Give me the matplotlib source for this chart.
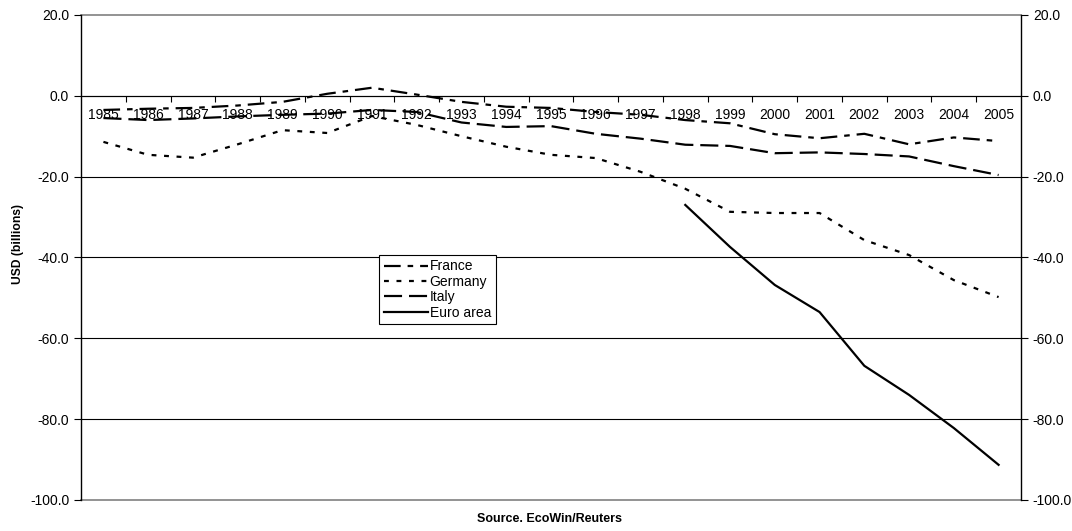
import numpy as np
import matplotlib.pyplot as plt
from matplotlib.ticker import MultipleLocator, FixedLocator

plt.rcParams['font.family'] = ['Liberation Sans', 'DejaVu Sans']
plt.rcParams['lines.scale_dashes'] = False

years = list(range(1985, 2006))
france = [-3.5, -3.2, -3.0, -2.4, -1.5, 0.5, 2.0, 0.3, -1.5, -2.7, -3.0, -4.0,
          -4.7, -6.0, -6.8, -9.5, -10.5, -9.4, -12.0, -10.3, -11.2]
germany = [-11.4, -14.6, -15.3, -12.0, -8.5, -9.2, -5.0, -7.2, -10.0, -12.6, -14.6,
           -15.4, -18.8, -23.0, -28.7, -29.0, -29.0, -35.7, -39.4, -45.6, -49.8]
italy = [-5.5, -6.0, -5.6, -5.1, -4.7, -4.4, -3.5, -4.0, -6.6, -7.7, -7.5, -9.4,
         -10.6, -12.1, -12.4, -14.2, -14.0, -14.4, -15.0, -17.4, -19.6]
euro_years = list(range(1998, 2006))
euro = [-27.0, -37.4, -46.8, -53.5, -66.8, -74.0, -82.2, -91.3]

fig = plt.figure(figsize=(10.72, 5.31), dpi=100)
ax = fig.add_axes([0.0756, 0.0584, 0.8768, 0.9134])

lw = 1.6
ax.plot(years, france, color='black', lw=lw, dashes=(12, 5, 4, 5), label='France')
ax.plot(years, germany, color='black', lw=lw, dashes=(3.5, 5.5), label='Germany')
ax.plot(years, italy, color='black', lw=lw, dashes=(13, 5), label='Italy')
ax.plot(euro_years, euro, color='black', lw=lw, label='Euro area')

ax.set_xlim(1984.5, 2005.5)
ax.set_ylim(-100, 20)
ax.yaxis.set_major_locator(MultipleLocator(20))
ax.yaxis.set_major_formatter(lambda v, p: f'{v:.1f}')
# horizontal gridlines, border ones a bit lighter
for v in range(-80, 20, 20):
    ax.axhline(v, color='black', lw=0.8, zorder=0)
for v in (20, -100):
    ax.axhline(v, color='#808080', lw=1.2, zorder=0, clip_on=False)

# category axis crosses at zero
ax.spines['bottom'].set_position(('data', 0))
ax.spines['bottom'].set_linewidth(0.8)
ax.spines['top'].set_visible(False)
ax.xaxis.set_major_locator(FixedLocator(years))
ax.set_xticklabels([str(y) for y in years], fontsize=10)
ax.xaxis.set_minor_locator(FixedLocator(np.arange(1985.5, 2005, 1)))
ax.tick_params(axis='x', which='major', length=0, pad=9)
ax.tick_params(axis='x', which='minor', length=4, direction='out', width=0.8)

ax.tick_params(axis='y', which='major', length=5, direction='out', width=0.8,
               labelsize=10, left=True, right=True, labelleft=True, labelright=True)
ax.spines['left'].set_linewidth(1.0)
ax.spines['right'].set_linewidth(1.0)

ax.set_ylabel('USD (billions)', fontsize=8.7, fontweight='bold')
ax.yaxis.set_label_coords(-0.061, 0.528)
fig.text(0.513, 0.022, 'Source. EcoWin/Reuters', fontsize=9, fontweight='bold',
         ha='center', va='center')

leg = ax.legend(loc='upper left', bbox_to_anchor=(0.317, 0.506), fontsize=10,
                frameon=True, fancybox=False, edgecolor='black', framealpha=1,
                handlelength=3.2, handletextpad=0.1, borderpad=0.35,
                labelspacing=0.1, borderaxespad=0)
leg.get_frame().set_linewidth(0.8)

fig.savefig('out.png', dpi=100)
